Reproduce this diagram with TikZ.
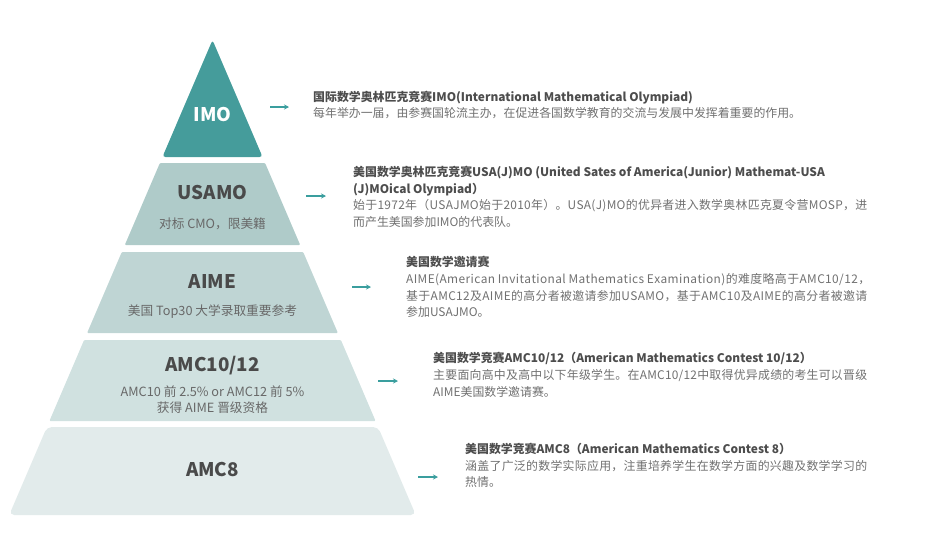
\documentclass[tikz,border=0pt]{standalone}
\usepackage{fontspec}
\setmainfont{Noto Sans CJK SC}
\usetikzlibrary{arrows.meta}
% inter-character justification for the justified description lines
\newXeTeXintercharclass\jcls
\newcount\jci
\jci="4E00 \loop \XeTeXcharclass\jci=\jcls \advance\jci 1 \ifnum\jci<"A000 \repeat
\jci=`A \loop \XeTeXcharclass\jci=\jcls \advance\jci 1 \ifnum\jci<91 \repeat
\jci=`a \loop \XeTeXcharclass\jci=\jcls \advance\jci 1 \ifnum\jci<123 \repeat
\jci=`0 \loop \XeTeXcharclass\jci=\jcls \advance\jci 1 \ifnum\jci<58 \repeat
\XeTeXcharclass`(=\jcls \XeTeXcharclass`)=\jcls \XeTeXcharclass`/=\jcls
\XeTeXcharclass"FF0C=\jcls \XeTeXcharclass"FF08=\jcls \XeTeXcharclass"FF09=\jcls \XeTeXcharclass"3002=\jcls
\XeTeXinterchartoks\jcls\jcls={\hfil}
\newcommand\jline[2]{\hbox to #1{\XeTeXinterchartokenstate=1 #2\XeTeXinterchartokenstate=0}}
\definecolor{cimo}{HTML}{459C9B}
\definecolor{cusamo}{HTML}{AFCBC9}
\definecolor{caime}{HTML}{BFD5D4}
\definecolor{camc}{HTML}{D0E1E0}
\definecolor{camceight}{HTML}{E2EBEB}
\definecolor{carrow}{HTML}{3A9E9E}
\definecolor{ctitle}{HTML}{4D4D4D}
\definecolor{cbody}{HTML}{707070}
\definecolor{clabel}{HTML}{4A4A4A}
\definecolor{csub}{HTML}{686868}
\begin{document}
\begin{tikzpicture}[x=1pt,y=-1pt,
  band/.style={rounded corners=1pt},
  plabel/.style={inner sep=0pt, font=\fontsize{18.8}{22}\selectfont\bfseries, text=clabel},
  psub/.style={inner sep=0pt, font=\fontsize{12.7}{15}\selectfont, text=csub},
  ttl/.style={anchor=base west, inner sep=0pt, font=\fontsize{11.9}{14}\selectfont\bfseries, text=ctitle},
  txt/.style={anchor=base west, inner sep=0pt, font=\fontsize{11.9}{14}\selectfont, text=cbody},
  pointer/.style={draw=carrow, line width=1.7pt, -{Stealth[length=5pt,width=5pt]}}]
\useasboundingbox (0,0) rectangle (928,555);
% pyramid bands
\fill[cimo, rounded corners=3pt] (162.4,157) -- (212.5,40) -- (262.6,157) -- cycle;
\fill[cusamo, band] (159.9,163) -- (265.1,163) -- (300.2,245) -- (124.8,245) -- cycle;
\fill[caime, band] (121.8,252) -- (303.2,252) -- (337.9,333) -- (87.1,333) -- cycle;
\fill[camc, band] (84.1,340) -- (340.9,340) -- (375.6,421) -- (49.4,421) -- cycle;
\fill[camceight, rounded corners=5pt] (46.9,427) -- (378.1,427) -- (415.8,515) -- (9.2,515) -- cycle;
% pyramid labels
\node[plabel, text=white] (limo) at (212.5,115) {IMO};
\node[plabel] (lusamo) at (212.5,193) {USAMO};
\node[psub] (susamo) at (212.5,224) {对标 CMO，限美籍};
\node[plabel] (laime) at (212.5,281) {AIME};
\node[psub] (saime) at (212.5,312) {美国 Top30 大学录取重要参考};
\node[plabel] (lamc) at (212.5,366) {AMC10/12};
\node[psub] (samca) at (212.5,392) {AMC10 前 2.5\% or AMC12 前 5\%};
\node[psub] (samcb) at (212.5,407.5) {获得 AIME 晋级资格};
\node[plabel] (lamceight) at (212.5,469) {AMC8};
% arrows
\coordinate (a1s) at (270,107); \coordinate (a1e) at (289,107);
\coordinate (a2s) at (306,196); \coordinate (a2e) at (326,196);
\coordinate (a3s) at (352,287); \coordinate (a3e) at (371,287);
\coordinate (a4s) at (378,381); \coordinate (a4e) at (398,381);
\coordinate (a5s) at (418,477); \coordinate (a5e) at (438,477);
\draw[pointer] (a1s) -- (a1e);
\draw[pointer] (a2s) -- (a2e);
\draw[pointer] (a3s) -- (a3e);
\draw[pointer] (a4s) -- (a4e);
\draw[pointer] (a5s) -- (a5e);
% IMO text
\node[ttl] (imot) at (313,101.5) {国际数学奥林匹克竞赛IMO(International Mathematical Olympiad)};
\node[txt] (imob) at (313,117.5) {每年举办一届，由参赛国轮流主办，在促进各国数学教育的交流与发展中发挥着重要的作用。};
% USAMO text
\node[ttl] (usat1) at (353,176.5) {美国数学奥林匹克竞赛USA(J)MO (United Sates of America(Junior) Mathemat-USA};
\node[ttl] (usat2) at (353,193.5) {(J)MOical Olympiad）};
\node[txt] (usab1) at (353,209.5) {\jline{514pt}{始于1972年（USAJMO始于2010年）。USA(J)MO的优异者进入数学奥林匹克夏令营MOSP，进}};
\node[txt] (usab2) at (353,226.5) {而产生美国参加IMO的代表队。};
% AIME text
\node[ttl] (aimet) at (406,266.5) {美国数学邀请赛};
\node[txt] (aimeb1) at (406,283.5) {\jline{464pt}{AIME(American Invitational Mathematics Examination)的难度略高于AMC10/12，}};
\node[txt] (aimeb2) at (406,300.5) {\jline{461pt}{基于AMC12及AIME的高分者被邀请参加USAMO，基于AMC10及AIME的高分者被邀请}};
\node[txt] (aimeb3) at (406,316.5) {参加USAJMO。};
% AMC10/12 text
\node[ttl] (amct) at (433,362.5) {美国数学竞赛AMC10/12（American Mathematics Contest 10/12）};
\node[txt] (amcb1) at (433,379.5) {\jline{434pt}{主要面向高中及高中以下年级学生。在AMC10/12中取得优异成绩的考生可以晋级}};
\node[txt] (amcb2) at (433,396.5) {AIME美国数学邀请赛。};
% AMC8 text
\node[ttl] (amc8t) at (465,453.5) {美国数学竞赛AMC8（American Mathematics Contest 8）};
\node[txt] (amc8b1) at (465,470.5) {\jline{402pt}{涵盖了广泛的数学实际应用，注重培养学生在数学方面的兴趣及数学学习的}};
\node[txt] (amc8b2) at (465,486.5) {热情。};
\end{tikzpicture}
\end{document}
